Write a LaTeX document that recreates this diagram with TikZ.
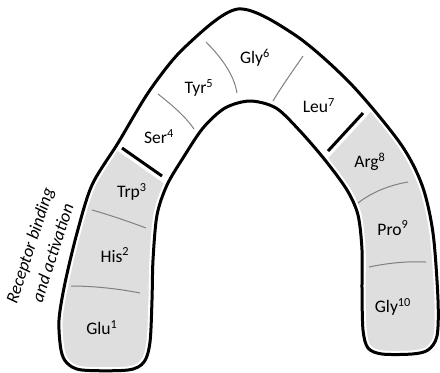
\documentclass[tikz,border=0pt]{standalone}
\usepackage{fontspec}
\setmainfont{Carlito}
\usetikzlibrary{positioning}

\definecolor{legfill}{RGB}{222,222,222}
\definecolor{divgray}{RGB}{128,128,128}

% outline of the peptide arch, in pixel units
\newcommand\archband{plot[smooth cycle, tension=0.5] coordinates {
  (61,350) (59,320) (65,283) (77,233) (92,185) (118,143) (150,90)
  (185,47) (238,9) (295,35) (350,83) (400,143) (422,185) (433,233)
  (438,300) (437,336) (428,350) (412,354) (382,354) (368,348) (363,330)
  (362,290) (362,250) (358,215) (347,190) (325,160) (300,131) (276,108)
  (250,101) (225,108) (203,128) (183,158) (167,185) (157,215) (153,260)
  (152,300) (150,342) (144,362) (128,370) (82,370) (67,363)}}

\begin{document}
\begin{tikzpicture}[x=0.25mm, y=-0.25mm, font=\fontsize{12.5}{14}\selectfont,
  band/.style={line width=0.75mm, line join=round},
  gap/.style={white, line width=1.8mm, line join=round},
  divider/.style={divgray, line width=0.25mm},
  sep/.style={line width=0.75mm}]

  \useasboundingbox (0,0) rectangle (440,372);

  % shaded ends of the chain
  \begin{scope}
    \clip (39,96) -- (239,236) -- (239,400) -- (0,400) -- (0,96) -- cycle
          (437,40) -- (500,40) -- (500,400) -- (262,400) -- (262,230) -- cycle;
    \fill[legfill] \archband;
  \end{scope}

  % thin borders between residues
  \draw[divider] (92,210) .. controls (110,215) and (130,222) .. (146,228);
  \draw[divider] (71,286) .. controls (95,286) and (120,289) .. (140,293);
  \draw[divider] (158,94) .. controls (172,105) and (185,116) .. (194,129);
  \draw[divider] (206,42) .. controls (222,58) and (234,75) .. (237,93);
  \draw[divider] (303,56) .. controls (292,72) and (282,86) .. (273,101);
  \draw[divider] (358,203) .. controls (372,192) and (390,185) .. (408,182);
  \draw[divider] (369,267) .. controls (388,263) and (408,261) .. (426,262);

  % outline
  \draw[gap] \archband;
  \draw[band] \archband;

  % region boundaries
  \coordinate (lsepA) at (122,148);
  \coordinate (lsepB) at (162,176);
  \coordinate (rsepA) at (363,113);
  \coordinate (rsepB) at (328,151);
  \draw[sep] (lsepA) -- (lsepB);
  \draw[sep] (rsepA) -- (rsepB);

  % residues
  \node (glu)   at (102,328) {Glu\textsuperscript{1}};
  \node (his)   at (115,255) {His\textsuperscript{2}};
  \node (trp)   at (132,192) {Trp\textsuperscript{3}};
  \node (ser)   at (159,137) {Ser\textsuperscript{4}};
  \node (tyr)   at (199,88)  {Tyr\textsuperscript{5}};
  \node (gly)   at (255,58)  {Gly\textsuperscript{6}};
  \node (leu)   at (319,106) {Leu\textsuperscript{7}};
  \node (arg)   at (370,162) {Arg\textsuperscript{8}};
  \node (pro)   at (393,228) {Pro\textsuperscript{9}};
  \node (glyb)  at (393,307) {Gly\textsuperscript{10}};

  \node[rotate=72, align=center, font=\fontsize{12.5}{17}\selectfont\itshape]
    (receptor) at (41,249) {Receptor binding\\and activation};

\end{tikzpicture}
\end{document}
